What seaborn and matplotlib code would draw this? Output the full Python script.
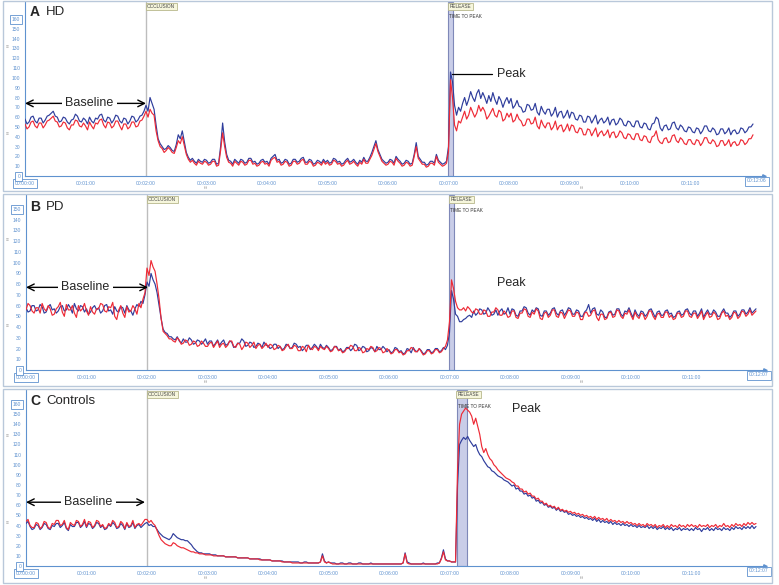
import numpy as np
import pandas as pd
import matplotlib.pyplot as plt
from matplotlib.patches import Rectangle
import seaborn as sns

W, H = 779, 585

# flux readings, one sample every 2 s (t = 0 .. 722 s), one row per minute
hd_blue = [58, 53, 55, 60, 61, 56, 54, 59, 59, 54, 57, 61, 62, 64, 66, 61, 60, 55, 56, 60, 59, 55, 53, 57, 58, 63, 61, 56, 55, 59,
           57, 53, 60, 56, 54, 59, 58, 62, 63, 57, 55, 60, 59, 54, 57, 62, 61, 56, 54, 59, 58, 53, 56, 61, 60, 55, 57, 61, 62, 66,
           72, 66, 80, 74, 68, 52, 38, 33, 30, 27, 28, 31, 29, 26, 25, 32, 42, 38, 46, 35, 24, 19, 16, 18, 15, 13, 17, 15, 14, 17,
           16, 13, 14, 17, 17, 12, 13, 30, 54, 35, 22, 16, 15, 12, 17, 15, 13, 17, 16, 13, 14, 18, 18, 14, 15, 12, 13, 16, 17, 14,
           15, 12, 18, 20, 22, 16, 17, 13, 14, 17, 16, 12, 13, 17, 17, 14, 15, 18, 19, 14, 14, 17, 16, 12, 13, 16, 15, 13, 17, 14,
           16, 13, 14, 18, 17, 14, 15, 12, 13, 16, 18, 14, 15, 17, 14, 12, 16, 14, 19, 15, 15, 19, 24, 30, 36, 27, 22, 17, 15, 13,
           14, 17, 16, 13, 20, 17, 15, 12, 13, 16, 15, 12, 13, 22, 34, 20, 17, 14, 14, 11, 12, 15, 15, 13, 22, 16, 14, 12, 13, 15,
           30, 106, 96, 72, 62, 70, 66, 74, 80, 72, 78, 86, 80, 76, 84, 88, 79, 85, 80, 74, 82, 76, 85, 78, 73, 81, 77, 70, 76, 80,
           74, 79, 69, 72, 77, 71, 70, 65, 66, 73, 72, 67, 68, 74, 65, 62, 71, 66, 63, 68, 68, 61, 64, 70, 60, 65, 66, 59, 62, 67,
           59, 65, 64, 58, 57, 62, 61, 55, 55, 61, 60, 54, 58, 62, 53, 57, 59, 54, 56, 60, 52, 57, 58, 52, 54, 59, 57, 52, 51, 56,
           55, 51, 50, 56, 56, 50, 49, 54, 53, 48, 47, 53, 54, 60, 58, 49, 46, 51, 52, 47, 48, 54, 55, 49, 47, 52, 50, 46, 45, 50,
           49, 45, 44, 49, 48, 43, 46, 51, 51, 46, 45, 49, 47, 42, 43, 48, 48, 43, 45, 49, 42, 46, 47, 43, 44, 49, 48, 44, 46, 50,
           50, 53]
hd_red = [53, 48, 50, 55, 56, 51, 49, 54, 54, 49, 52, 56, 57, 59, 61, 56, 55, 50, 51, 55, 54, 49, 47, 52, 52, 57, 56, 51, 50, 54,
          51, 47, 55, 51, 48, 54, 53, 57, 58, 52, 49, 55, 54, 49, 51, 56, 56, 51, 47, 53, 53, 48, 50, 55, 55, 50, 51, 56, 57, 61,
          66, 60, 68, 64, 62, 46, 36, 30, 28, 24, 26, 29, 27, 24, 23, 29, 36, 33, 40, 31, 22, 17, 14, 16, 13, 11, 15, 13, 12, 15,
          14, 11, 12, 15, 15, 10, 11, 26, 44, 30, 19, 14, 13, 10, 15, 13, 11, 15, 14, 11, 12, 16, 16, 12, 13, 10, 11, 14, 15, 12,
          13, 10, 16, 18, 19, 14, 15, 11, 12, 15, 14, 10, 11, 15, 15, 12, 13, 16, 17, 12, 12, 15, 14, 10, 11, 14, 13, 11, 15, 12,
          14, 11, 12, 16, 15, 12, 13, 10, 11, 14, 16, 12, 13, 15, 12, 10, 14, 12, 17, 13, 13, 17, 21, 27, 33, 25, 20, 15, 13, 11,
          12, 15, 14, 11, 18, 15, 13, 10, 11, 14, 13, 10, 11, 20, 30, 18, 15, 12, 12, 9, 10, 13, 13, 11, 20, 14, 12, 10, 11, 13,
          25, 98, 80, 52, 46, 56, 54, 60, 66, 58, 62, 70, 65, 60, 64, 72, 66, 70, 66, 58, 61, 65, 69, 62, 60, 67, 65, 56, 58, 64,
          60, 64, 55, 57, 63, 58, 56, 51, 52, 58, 58, 53, 54, 60, 51, 48, 57, 52, 49, 54, 54, 47, 50, 56, 47, 51, 52, 45, 48, 53,
          46, 52, 51, 45, 44, 49, 48, 42, 42, 48, 47, 41, 45, 49, 40, 44, 46, 41, 43, 47, 39, 44, 45, 39, 41, 46, 44, 39, 38, 43,
          42, 38, 37, 43, 43, 37, 36, 41, 40, 35, 34, 40, 41, 46, 37, 34, 33, 38, 39, 34, 35, 41, 42, 36, 34, 39, 37, 33, 32, 37,
          37, 33, 32, 37, 36, 31, 34, 39, 39, 34, 33, 37, 35, 30, 31, 36, 36, 31, 33, 37, 30, 34, 35, 31, 32, 37, 36, 32, 34, 38,
          38, 42]

pd_blue = [58, 54, 55, 60, 60, 55, 56, 61, 59, 53, 54, 59, 61, 56, 57, 53, 55, 59, 60, 55, 56, 61, 58, 53, 62, 57, 55, 60, 59, 54,
           57, 52, 54, 58, 60, 56, 58, 53, 55, 60, 61, 55, 56, 52, 59, 55, 54, 59, 58, 53, 60, 56, 55, 51, 57, 61, 59, 64, 62, 70,
           82, 78, 90, 84, 80, 72, 60, 48, 38, 35, 34, 31, 31, 29, 28, 31, 27, 25, 29, 26, 26, 30, 28, 24, 25, 28, 27, 24, 26, 29,
           24, 27, 27, 22, 25, 28, 23, 26, 28, 23, 24, 27, 26, 21, 22, 25, 25, 29, 27, 22, 23, 26, 25, 21, 22, 25, 24, 21, 26, 23,
           23, 20, 21, 24, 24, 20, 22, 19, 20, 24, 23, 20, 21, 25, 24, 21, 22, 18, 20, 23, 23, 19, 21, 24, 22, 19, 24, 21, 20, 23,
           21, 18, 19, 22, 22, 18, 20, 17, 18, 21, 21, 18, 20, 24, 23, 18, 19, 22, 21, 17, 18, 21, 20, 17, 22, 19, 19, 22, 20, 17,
           19, 16, 17, 21, 20, 17, 18, 15, 16, 20, 19, 16, 21, 18, 17, 20, 18, 15, 16, 19, 19, 16, 17, 20, 20, 17, 18, 21, 19, 23,
           35, 74, 66, 52, 50, 45, 45, 47, 48, 50, 51, 49, 55, 51, 53, 57, 56, 52, 53, 58, 55, 51, 52, 56, 51, 55, 57, 52, 53, 58,
           52, 57, 56, 51, 50, 55, 55, 59, 58, 53, 51, 56, 54, 58, 57, 51, 50, 55, 55, 51, 53, 57, 58, 53, 51, 55, 56, 51, 54, 58,
           57, 52, 52, 56, 55, 50, 50, 54, 56, 61, 53, 57, 58, 52, 51, 56, 54, 49, 49, 54, 55, 51, 52, 57, 57, 52, 50, 55, 54, 58,
           53, 49, 56, 52, 50, 55, 54, 50, 52, 56, 57, 53, 49, 54, 55, 51, 51, 55, 56, 52, 53, 49, 50, 54, 55, 51, 52, 56, 57, 53,
           51, 55, 55, 50, 53, 57, 49, 53, 56, 52, 52, 56, 54, 50, 50, 54, 57, 53, 53, 49, 51, 55, 55, 50, 52, 56, 56, 52, 54, 58,
           53, 55, 57]
pd_red = [56, 62, 60, 55, 53, 58, 58, 53, 62, 57, 55, 60, 57, 51, 52, 57, 59, 63, 54, 50, 61, 56, 56, 60, 53, 49, 60, 55, 57, 62,
          55, 51, 59, 54, 52, 57, 57, 62, 61, 55, 54, 59, 58, 63, 50, 47, 56, 60, 53, 49, 59, 54, 55, 60, 57, 52, 62, 58, 66, 72,
          95, 88, 102, 96, 92, 80, 66, 48, 36, 34, 32, 29, 29, 27, 26, 30, 28, 24, 25, 28, 27, 23, 24, 27, 26, 22, 23, 27, 25, 22,
          22, 25, 26, 21, 24, 27, 21, 24, 25, 21, 23, 27, 27, 22, 21, 25, 24, 19, 22, 26, 25, 21, 23, 26, 20, 23, 24, 20, 22, 25,
          21, 24, 23, 19, 20, 23, 22, 18, 19, 22, 24, 20, 20, 23, 22, 18, 18, 22, 21, 17, 23, 20, 19, 22, 21, 18, 22, 20, 19, 22,
          20, 17, 18, 22, 21, 18, 19, 16, 17, 20, 20, 23, 22, 18, 18, 21, 20, 16, 17, 20, 19, 22, 21, 17, 18, 21, 20, 16, 17, 20,
          18, 15, 16, 19, 19, 16, 17, 14, 15, 18, 18, 21, 20, 17, 17, 20, 17, 14, 15, 18, 18, 15, 16, 19, 19, 16, 17, 20, 22, 28,
          45, 84, 76, 64, 58, 56, 56, 58, 55, 59, 57, 54, 53, 57, 56, 52, 52, 56, 55, 50, 50, 54, 54, 58, 56, 51, 51, 55, 53, 49,
          50, 55, 55, 49, 48, 53, 53, 57, 56, 50, 49, 54, 52, 57, 55, 48, 47, 53, 54, 49, 51, 56, 56, 50, 49, 54, 53, 48, 52, 56,
          55, 50, 50, 54, 53, 47, 47, 53, 54, 50, 51, 55, 56, 49, 46, 52, 52, 47, 48, 53, 54, 49, 50, 56, 55, 50, 48, 53, 52, 56,
          51, 47, 54, 50, 48, 53, 52, 47, 50, 55, 55, 50, 47, 52, 53, 49, 49, 54, 54, 49, 51, 47, 48, 53, 53, 49, 50, 55, 55, 50,
          49, 53, 53, 48, 51, 55, 47, 51, 54, 49, 50, 54, 52, 47, 48, 53, 55, 50, 51, 47, 49, 54, 53, 48, 50, 55, 54, 50, 52, 56,
          51, 53, 55]

ctl_blue = [42, 44, 39, 36, 37, 41, 40, 36, 38, 42, 41, 37, 36, 40, 39, 42, 42, 38, 40, 43, 37, 35, 41, 39, 39, 43, 43, 38, 40, 44,
            38, 42, 41, 37, 39, 43, 42, 38, 40, 36, 37, 41, 39, 43, 41, 37, 38, 42, 40, 36, 42, 38, 39, 43, 37, 40, 41, 38, 40, 42,
            43, 40, 41, 39, 39, 36, 33, 31, 29, 28, 27, 26, 28, 32, 30, 28, 27, 26, 26, 25, 25, 23, 21, 18, 16, 14, 13, 13, 12, 12,
            12, 12, 11, 11, 11, 10, 10, 10, 10, 9, 9, 9, 9, 9, 9, 8, 8, 8, 8, 8, 8, 7, 7, 7, 7, 7, 7, 6, 6, 6,
            6, 6, 5, 5, 5, 5, 5, 5, 4, 4, 4, 4, 4, 4, 4, 4, 3, 3, 4, 4, 3, 3, 3, 3, 3, 3, 4, 12, 5, 3,
            4, 3, 3, 3, 2, 2, 3, 3, 2, 2, 3, 3, 2, 2, 2, 3, 3, 2, 2, 2, 2, 3, 2, 2, 2, 2, 2, 2, 2, 2,
            2, 2, 2, 2, 2, 2, 2, 3, 13, 4, 3, 2, 2, 2, 2, 2, 2, 3, 2, 2, 2, 2, 2, 2, 3, 3, 8, 16, 7, 5,
            5, 4, 4, 4, 80, 120, 124, 127, 125, 128, 124, 121, 118, 120, 114, 110, 108, 104, 101, 98, 97, 94, 93, 91, 89, 88, 87, 85, 84, 83,
            81, 79, 80, 76, 77, 74, 74, 71, 72, 69, 70, 67, 68, 64, 65, 62, 63, 60, 61, 58, 59, 57, 58, 55, 57, 54, 55, 53, 54, 51,
            52, 50, 51, 49, 50, 48, 49, 47, 48, 46, 47, 45, 47, 44, 46, 43, 45, 43, 44, 42, 44, 41, 43, 41, 42, 40, 42, 40, 41, 39,
            41, 39, 40, 38, 40, 38, 39, 38, 40, 37, 39, 37, 39, 36, 38, 37, 39, 36, 38, 36, 38, 35, 37, 36, 38, 35, 37, 36, 37, 35,
            37, 35, 38, 36, 37, 34, 37, 36, 38, 35, 37, 35, 38, 36, 37, 35, 38, 36, 37, 35, 38, 36, 39, 37, 38, 36, 39, 37, 39, 37,
            40, 37, 39]
ctl_red = [44, 46, 40, 38, 38, 43, 42, 37, 39, 44, 43, 38, 37, 42, 41, 45, 45, 40, 41, 45, 38, 36, 43, 41, 40, 45, 44, 39, 41, 46,
           39, 44, 43, 38, 40, 45, 44, 39, 41, 37, 38, 42, 40, 45, 43, 38, 39, 44, 42, 37, 43, 39, 40, 45, 38, 41, 42, 40, 43, 46,
           46, 43, 45, 42, 40, 35, 30, 26, 24, 22, 21, 20, 20, 23, 22, 20, 19, 18, 18, 17, 16, 15, 14, 14, 13, 13, 12, 12, 12, 11,
           11, 11, 11, 10, 10, 10, 10, 10, 10, 9, 9, 9, 9, 9, 9, 8, 8, 8, 8, 8, 8, 7, 7, 7, 7, 7, 6, 6, 6, 6,
           6, 6, 5, 5, 5, 5, 5, 4, 4, 4, 4, 4, 3, 3, 3, 3, 3, 3, 3, 3, 3, 3, 3, 3, 3, 3, 4, 10, 4, 3,
           4, 3, 2, 2, 2, 2, 2, 2, 2, 2, 2, 2, 2, 2, 2, 2, 2, 2, 2, 2, 2, 2, 2, 2, 2, 2, 2, 2, 2, 2,
           2, 2, 2, 2, 2, 2, 2, 3, 12, 3, 2, 2, 2, 2, 2, 2, 2, 2, 2, 2, 2, 2, 2, 2, 2, 3, 7, 14, 6, 5,
           5, 4, 4, 4, 95, 140, 150, 153, 156, 154, 152, 148, 140, 146, 138, 130, 118, 112, 116, 110, 106, 104, 100, 98, 95, 93, 91, 89, 87, 86,
           85, 83, 82, 79, 79, 76, 76, 73, 74, 71, 72, 69, 69, 66, 67, 64, 64, 61, 62, 59, 60, 58, 59, 56, 58, 55, 56, 54, 55, 53,
           54, 52, 53, 51, 52, 50, 51, 49, 50, 48, 49, 47, 49, 46, 48, 46, 47, 45, 47, 44, 46, 44, 45, 43, 45, 43, 44, 42, 44, 42,
           43, 41, 42, 40, 42, 40, 41, 39, 42, 40, 41, 39, 41, 38, 40, 39, 41, 38, 40, 38, 41, 39, 40, 38, 41, 39, 40, 38, 41, 39,
           41, 39, 40, 38, 41, 39, 40, 39, 41, 38, 40, 39, 41, 38, 40, 39, 42, 39, 40, 38, 41, 39, 42, 40, 41, 39, 42, 40, 43, 41,
           43, 41, 42]

minute_ticks = [f"00:{m:02d}:00" for m in range(12)]
end_labels = ["00:12:06", "00:12:07", "00:12:07"]
end_times = [726, 727, 727]
occlusion_t = [120, 120, 120]
release_band = [(420, 424.5), (420, 424.5), (427, 437.5)]
baseline_level = [74, 77, 63]
baseline_text_t = [64, 59, 62]
baseline_end_t = [120, 121, 118]
peak_pos = [(468, 104), (467, 81), (482, 155)]
letters = ["A", "B", "C"]
groups = ["HD", "PD", "Controls"]
y_tops = [160, 150, 160]

blue = '#2f3d9c'
red = '#ee2a36'
axis_blue = '#5f92cf'
frame_col = '#b9c8da'

# panel geometry in pixels: frame top/bottom, axes top/bottom, px per unit
layout = [
    dict(ft=1, fb=191, top=2, bottom=176, left=25, ppu=157 / 160, marks=(47, 134)),
    dict(ft=194, fb=386, top=195, bottom=370, left=26, ppu=161 / 150, marks=(240, 326)),
    dict(ft=389, fb=583, top=390, bottom=566, left=26, ppu=162 / 160, marks=(436, 523)),
]
RIGHT = 772
PPS = 1.0083  # px per second

sns.set_style('white')
plt.rcParams['font.family'] = ['Liberation Sans', 'DejaVu Sans']

fig = plt.figure(figsize=(W / 100, H / 100), dpi=100)
traces = [(hd_blue, hd_red), (pd_blue, pd_red), (ctl_blue, ctl_red)]

for i, lay in enumerate(layout):
    ax = fig.add_axes([lay['left'] / W, 1 - lay['bottom'] / H,
                       (RIGHT - lay['left']) / W, (lay['bottom'] - lay['top']) / H])
    fig.add_artist(Rectangle((3 / W, 1 - lay['fb'] / H), (RIGHT - 3) / W,
                             (lay['fb'] - lay['ft']) / H, transform=fig.transFigure,
                             fill=False, ec=frame_col, lw=1))
    ah = lay['bottom'] - lay['top']
    ymax = ah / lay['ppu']
    xmax = (RIGHT - lay['left']) / PPS

    b, r = traces[i]

    # event markers
    ax.axvline(occlusion_t[i], color='#bdbdbd', lw=1, zorder=1)
    r0, r1 = release_band[i]
    ax.axvspan(r0, r1, fc='#c9cde8', ec='#7f88b8', lw=0.8, zorder=1)

    sns.lineplot(x=np.arange(len(b)) * 2, y=b, color=blue, lw=0.85, ax=ax, zorder=3)
    sns.lineplot(x=np.arange(len(r)) * 2, y=r, color=red, lw=0.85, ax=ax, zorder=3)

    ax.set_xlim(0, xmax)
    ax.set_ylim(0, ymax)
    for s in ['top', 'right']:
        ax.spines[s].set_visible(False)
    for s in ['left', 'bottom']:
        ax.spines[s].set_color(axis_blue)
        ax.spines[s].set_linewidth(0.8)
    ax.spines['bottom'].set_bounds(0, 733)
    ax.plot(733, 0, marker='>', ms=2.5, color=axis_blue, clip_on=False)

    ax.set_xticks(np.arange(12) * 60)
    ax.set_xticklabels(minute_ticks)
    ax.set_yticks(np.arange(0, y_tops[i] + 1, 10))
    ax.set_yticklabels([str(v) for v in np.arange(0, y_tops[i] + 1, 10)])
    ax.tick_params(direction='out', length=2, width=0.6, color=axis_blue,
                   labelcolor=axis_blue, labelsize=3.6, pad=1.5)
    boxed = dict(boxstyle='square,pad=0.4', fc='white', ec=axis_blue, lw=0.6)
    for lbl in ax.get_yticklabels():
        if lbl.get_text() in ('0', str(y_tops[i])):
            lbl.set_bbox(dict(boxstyle='square,pad=0.4', fc='white', ec=axis_blue, lw=0.6))
    ax.get_xticklabels()[0].set_bbox(boxed)
    ax.text(end_times[i], -2.5 / lay['ppu'], end_labels[i], fontsize=3.6,
            color=axis_blue, ha='center', va='top', bbox=boxed, clip_on=False)

    xt = ax.get_xaxis_transform()
    label_box = dict(boxstyle='square,pad=0.3', fc='#f6f6dc', ec='#b8b88c', lw=0.6)
    ax.text(occlusion_t[i] + 1, 1 - 4.5 / ah, 'OCCLUSION', transform=xt,
            fontsize=3.4, color='#444444', ha='left', va='center', bbox=label_box)
    ax.text(r0 + 1, 1 - 4.5 / ah, 'RELEASE', transform=xt,
            fontsize=3.4, color='#444444', ha='left', va='center', bbox=label_box)
    ax.text(r0 + 1, 1 - (15 + i) / ah, 'TIME TO PEAK', transform=xt,
            fontsize=3.4, color='#333333', ha='left', va='center')

    # annotations
    ax.annotate('', xy=(0, baseline_level[i]), xytext=(baseline_end_t[i], baseline_level[i]),
                arrowprops=dict(arrowstyle='<->', lw=1.0, color='black',
                                shrinkA=0, shrinkB=0, mutation_scale=12), zorder=4)
    ax.text(baseline_text_t[i], baseline_level[i], 'Baseline', fontsize=9,
            ha='center', va='center', zorder=5,
            bbox=dict(boxstyle='square,pad=0.25', fc='white', ec='none'))
    px, py = peak_pos[i]
    ax.text(px, py, 'Peak', fontsize=9, ha='left', va='center', zorder=5)
    if i == 0:
        ax.plot([423.5, 463], [py, py], color='black', lw=0.9, zorder=5)

    # panel letter and group name
    ly = [12, 207, 401][i]
    fig.text(30 / W, 1 - ly / H, letters[i], fontsize=10, fontweight='bold', va='center')
    fig.text(46 / W, 1 - ly / H, groups[i], fontsize=9.5, va='center')

    # little grip marks of the viewer
    for my in lay['marks']:
        fig.text(7 / W, 1 - my / H, '≡', fontsize=3.5, color='#a0a0a0', ha='center', va='center')
    for mx in (207, 583):
        fig.text(mx / W, 1 - (lay['bottom'] + 11) / H, '≡', fontsize=3.5, color='#a0a0a0',
                 ha='center', va='center', rotation=90)

fig.savefig('out.png', dpi=100)
